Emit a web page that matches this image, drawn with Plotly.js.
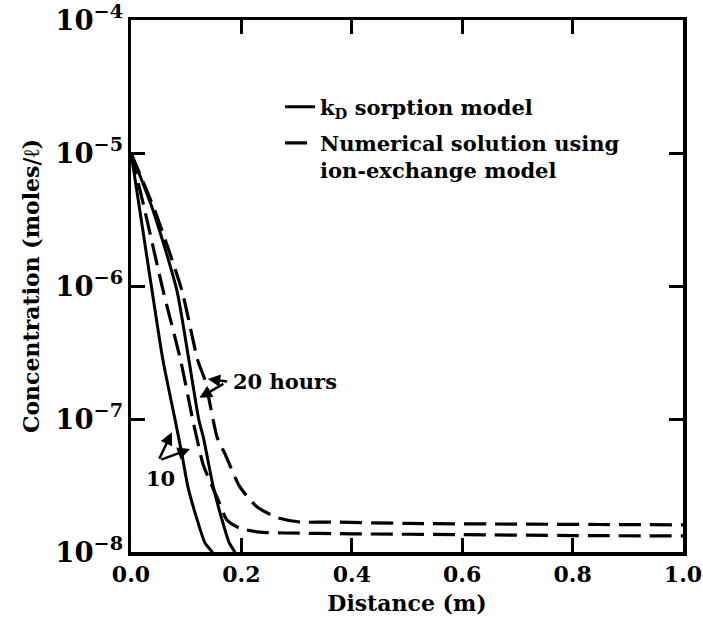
<!DOCTYPE html>
<html>
<head>
<meta charset="utf-8">
<script src="https://cdn.plot.ly/plotly-3.0.1.min.js"></script>
<style>
  html, body { margin: 0; padding: 0; background: #fff; }
  #chart { width: 703px; height: 639px; }
</style>
</head>
<body>
<div id="chart"></div>
<script>
// ---- data (distance in m, concentration in moles/l) ----
const kd10Dist = [0, 0.016, 0.038, 0.058, 0.080, 0.092, 0.103, 0.120, 0.134, 0.147, 0.16];
const kd10Conc = [1.0e-5, 3.7e-6, 9.3e-7, 2.75e-7, 9.8e-8, 5.5e-8, 3.1e-8, 1.74e-8, 1.17e-8, 1.0e-8, 7.6e-9];

const kd20Dist = [0, 0.040, 0.083, 0.105, 0.123, 0.131, 0.149, 0.165, 0.178, 0.188, 0.2];
const kd20Conc = [1.0e-5, 3.7e-6, 9.3e-7, 2.75e-7, 9.8e-8, 7.3e-8, 3.1e-8, 1.74e-8, 1.17e-8, 1.0e-8, 7.6e-9];

const ix10Dist = [0, 0.025, 0.058, 0.090, 0.112, 0.120, 0.131, 0.158, 0.174, 0.197, 0.234, 0.28, 0.4, 0.6, 0.8, 1.0];
const ix10Conc = [1.0e-5, 3.7e-6, 9.3e-7, 2.75e-7, 9.8e-8, 6.95e-8, 4.5e-8, 2.45e-8, 1.74e-8, 1.51e-8, 1.41e-8, 1.39e-8, 1.37e-8, 1.35e-8, 1.33e-8, 1.32e-8];

const ix20Dist = [0, 0.043, 0.092, 0.121, 0.134, 0.156, 0.170, 0.197, 0.228, 0.264, 0.306, 0.355, 0.5, 0.7, 0.85, 1.0];
const ix20Conc = [1.0e-5, 3.7e-6, 9.3e-7, 2.75e-7, 1.96e-7, 7.3e-8, 5.5e-8, 3.1e-8, 2.19e-8, 1.82e-8, 1.68e-8, 1.68e-8, 1.64e-8, 1.62e-8, 1.61e-8, 1.6e-8];

const xTickVals = [0, 0.2, 0.4, 0.6, 0.8, 1.0];
const xTickText = ['0.0', '0.2', '0.4', '0.6', '0.8', '1.0'];
const legendNames = ['k<sub>D</sub> sorption model', 'Numerical solution using<br>ion-exchange model'];
const labelTexts = ['20 hours', '10'];

// ---- styling ----
const FONT = 'DejaVu Serif, Liberation Serif, serif';
const DASH = '22px,9px';
const black = '#000';

const traces = [
  { x: kd10Dist, y: kd10Conc, mode: 'lines', line: { color: black, width: 3, shape: 'spline', smoothing: 0.6 },
    name: legendNames[0], showlegend: true, legendgroup: 'a' },
  { x: kd20Dist, y: kd20Conc, mode: 'lines', line: { color: black, width: 3, shape: 'spline', smoothing: 0.6 },
    name: legendNames[0], showlegend: false, legendgroup: 'a' },
  { x: ix10Dist, y: ix10Conc, mode: 'lines', line: { color: black, width: 3.2, dash: DASH, shape: 'spline', smoothing: 0.6 },
    name: legendNames[1], showlegend: true, legendgroup: 'b' },
  { x: ix20Dist, y: ix20Conc, mode: 'lines', line: { color: black, width: 3.2, dash: DASH, shape: 'spline', smoothing: 0.6 },
    name: legendNames[1], showlegend: false, legendgroup: 'b' }
];

function arrow(xh, yh, xt, yt) {
  return { x: xh, y: yh, ax: xt, ay: yt, xref: 'x', yref: 'y', axref: 'x', ayref: 'y',
           text: '', showarrow: true, arrowhead: 2, arrowsize: 1, arrowwidth: 2.5, arrowcolor: black };
}

const annotations = [
  { x: 0.182, y: -6.72, xref: 'x', yref: 'y', text: labelTexts[0], showarrow: false,
    xanchor: 'left', yanchor: 'middle', font: { family: FONT, size: 21, color: black, weight: 'bold' } },
  arrow(0.139, -6.70, 0.177, -6.72),
  arrow(0.124, -6.84, 0.170, -6.73),
  { x: 0.054, y: -7.45, xref: 'x', yref: 'y', text: labelTexts[1], showarrow: false,
    xanchor: 'center', yanchor: 'middle', font: { family: FONT, size: 21, color: black, weight: 'bold' } },
  arrow(0.074, -7.10, 0.050, -7.31),
  arrow(0.107, -7.225, 0.052, -7.31)
];

const axisCommon = {
  showline: true, linewidth: 3.5, linecolor: black, mirror: 'ticks',
  ticks: 'inside', ticklen: 14, tickwidth: 3, tickcolor: black,
  showgrid: false, zeroline: false, ticklabeloverflow: 'allow',
  tickfont: { family: FONT, size: 22, color: black, weight: 'bold' }
};

const layout = {
  width: 703, height: 639,
  margin: { l: 131, r: 20, t: 20, b: 87 },
  paper_bgcolor: '#fff', plot_bgcolor: '#fff',
  font: { family: FONT, color: black },
  xaxis: Object.assign({}, axisCommon, {
    range: [0, 1], tickvals: xTickVals, ticktext: xTickText,
    title: { text: 'Distance (m)', font: { family: FONT, size: 22, color: black, weight: 'bold' }, standoff: 10 }
  }),
  yaxis: Object.assign({}, axisCommon, {
    type: 'log', range: [-8, -4], dtick: 1, exponentformat: 'power',
    title: { text: 'Concentration (moles/ℓ)', font: { family: FONT, size: 22, color: black, weight: 'bold' }, standoff: 10 }
  }),
  showlegend: true,
  legend: {
    x: 0.27, y: 0.875, xanchor: 'left', yanchor: 'top',
    bgcolor: 'rgba(0,0,0,0)', borderwidth: 0, valign: 'top',
    traceorder: 'grouped', tracegroupgap: 6,
    font: { family: FONT, size: 21, color: black, weight: 'bold' }
  },
  annotations: annotations
};

Plotly.newPlot('chart', traces, layout, { displayModeBar: false, staticPlot: true });
</script>
</body>
</html>
